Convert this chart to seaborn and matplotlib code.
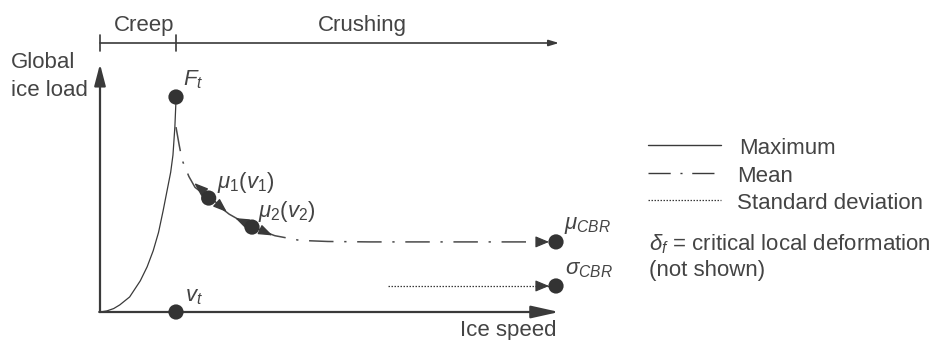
import numpy as np
import pandas as pd
import matplotlib
matplotlib.use("Agg")
import matplotlib.pyplot as plt
import seaborn as sns

# ---- schematic data (normalised: v_t = 1 on speed axis, F_t = 1 on load axis) ----
max_speed = [0.0, 0.09, 0.18, 0.26, 0.39, 0.53, 0.62, 0.70, 0.77, 0.83, 0.88, 0.93, 0.96, 0.985, 1.0]
max_load = [0.0, 0.005, 0.016, 0.033, 0.07, 0.145, 0.21, 0.285, 0.37, 0.47, 0.56, 0.65, 0.73, 0.86, 0.986]

mean_speed = [1.0, 1.04, 1.08, 1.17, 1.25, 1.43, 1.7, 2.0, 2.3, 2.63, 3.0, 3.55, 6.0]
mean_load = [0.86, 0.78, 0.707, 0.63, 0.58, 0.53, 0.455, 0.395, 0.355, 0.333, 0.328, 0.326, 0.326]

std_speed = [3.79, 6.0]
std_load = [0.121, 0.121]

point_names = ["F_t", "v_t", "mu1", "mu2", "mu_CBR", "sigma_CBR"]
point_speed = [1.0, 1.0, 1.43, 2.0, 6.0, 6.0]
point_load = [1.0, 0.0, 0.53, 0.395, 0.326, 0.121]
point_labels = [r"$F_t$", r"$v_t$", r"$\mu_{\mathit{1}}(v_{\mathit{1}})$",
                r"$\mu_{\mathit{2}}(v_{\mathit{2}})$", r"$\mu_{CBR}$", r"$\sigma_{CBR}$"]
label_offsets = [(7, 12), (9, 11), (8, 10), (6, 10), (8, 13), (9, 12)]

# local sensitivity of the mean load around mu1 and mu2 (tangent double arrows)
sens_start_speed = [1.24, 1.78]
sens_start_load = [0.60, 0.437]
sens_end_speed = [1.67, 2.27]
sens_end_load = [0.465, 0.356]

regime_names = ["Creep", "Crushing"]
regime_bounds = [0.0, 1.0, 6.0]

legend_labels = ["Maximum", "Mean", "Standard deviation"]
mean_dash = (0, (16, 7, 1.5, 7))
std_dots = (0, (1.2, 1.2))
legend_styles = ["-", mean_dash, std_dots]

# ---- styling ----
sns.set_theme(style="white")
plt.rcParams["font.family"] = ["Liberation Sans", "DejaVu Sans"]
plt.rcParams["mathtext.fontset"] = "custom"
plt.rcParams["mathtext.rm"] = "Liberation Sans"
plt.rcParams["mathtext.it"] = "Liberation Sans:italic"
plt.rcParams["mathtext.bf"] = "Liberation Sans:bold"

LINE = "#3a3a3a"
MEAN = "#4a4a4a"
TEXT = "#444444"
FS = 16

fig = plt.figure(figsize=(9.37, 3.4), dpi=100)
ax = fig.add_axes([0, 0, 1, 1])
# 76 px per unit speed, 215 px per unit load, origin at pixel (100, 312)
ax.set_xlim(-100 / 76, 837 / 76)
ax.set_ylim(-28 / 215, 312 / 215)
ax.set_axis_off()

def px(x, y):
    return ((x - 100) / 76, (312 - y) / 215)

# ---- axes with arrow heads ----
ytop = px(0, 64)[1]
xend = 6.04
ax.annotate("", xy=(0, ytop), xytext=(0, 0),
            arrowprops=dict(arrowstyle="-|>,head_length=0.65,head_width=0.17",
                            mutation_scale=20, lw=1.6, color=LINE,
                            shrinkA=0, shrinkB=0))
ax.annotate("", xy=(xend, 0), xytext=(-0.01, 0),
            arrowprops=dict(arrowstyle="-|>,head_length=0.85,head_width=0.19",
                            mutation_scale=20, lw=1.6, color=LINE,
                            shrinkA=0, shrinkB=0))

# ---- regime bracket on top ----
ybr = px(0, 43)[1]
tick_h = 8 / 215
ax.annotate("", xy=(xend, ybr), xytext=(regime_bounds[0], ybr),
            arrowprops=dict(arrowstyle="-|>,head_length=0.5,head_width=0.15",
                            mutation_scale=12, lw=1.2, color=LINE,
                            shrinkA=0, shrinkB=0))
for b in regime_bounds[:2]:
    ax.plot([b, b], [ybr - tick_h, ybr + tick_h], color=LINE, lw=1.2)
ty = px(0, 31)[1]
ax.text(0.58, ty, regime_names[0], ha="center", va="baseline", fontsize=FS, color=TEXT)
ax.text(3.45, ty, regime_names[1], ha="center", va="baseline", fontsize=FS, color=TEXT)

# ---- curves ----
sns.lineplot(x=max_speed, y=max_load, ax=ax, sort=False, estimator=None,
             color=LINE, lw=0.9)
sns.lineplot(x=mean_speed[:-1] + [5.93], y=mean_load, ax=ax, sort=False, estimator=None,
             color=MEAN, lw=1.1, linestyle=mean_dash)
sns.lineplot(x=[std_speed[0], 5.93], y=std_load, ax=ax, sort=False, estimator=None,
             color=LINE, lw=0.9, linestyle=std_dots)

# arrow heads into the mu_CBR and sigma_CBR points
for yv in (mean_load[-1], std_load[-1]):
    ax.annotate("", xy=(6.0, yv), xytext=(5.75, yv),
                arrowprops=dict(arrowstyle="-|>,head_length=0.6,head_width=0.25",
                                mutation_scale=14, lw=0.8, color=LINE,
                                shrinkA=0, shrinkB=5.0))

# double arrows at mu1, mu2
for xs, ys, xe, ye in zip(sens_start_speed, sens_start_load, sens_end_speed, sens_end_load):
    ax.annotate("", xy=(xe, ye), xytext=(xs, ys),
                arrowprops=dict(arrowstyle="<|-|>,head_length=0.6,head_width=0.22",
                                mutation_scale=14, lw=1.0, color=LINE,
                                shrinkA=0, shrinkB=0), zorder=4)

# ---- points ----
pts = pd.DataFrame({"name": point_names, "speed": point_speed, "load": point_load})
sns.scatterplot(data=pts, x="speed", y="load", ax=ax, s=120, color="#333333",
                edgecolor="none", zorder=5, legend=False)
for xv, yv, lab, off in zip(point_speed, point_load, point_labels, label_offsets):
    ax.annotate(lab, (xv, yv), xytext=off, textcoords="offset pixels",
                ha="left", va="baseline", fontsize=FS, color=TEXT)

# ---- axis titles ----
gx, gy = px(11, 68)
ax.text(gx, gy, "Global", ha="left", va="baseline", fontsize=FS, color=TEXT)
gx, gy = px(11, 96)
ax.text(gx, gy, "ice load", ha="left", va="baseline", fontsize=FS, color=TEXT)
sx, sy = px(557, 336)
ax.text(sx, sy, "Ice speed", ha="right", va="baseline", fontsize=FS, color=TEXT)

# ---- legend ----
lx0, lx1, tx = 648, 721, 739
for i, (lab, ls) in enumerate(zip(legend_labels, legend_styles)):
    ly = 145 + i * 27.5
    a = px(lx0, ly)
    b = px(lx1, ly)
    ax.plot([a[0], b[0]], [a[1], b[1]], color=LINE, lw=1.0 if i != 2 else 0.9, linestyle=ls)
    t = px(tx - (2 if i else 0), ly + 9)
    ax.text(t[0], t[1], lab, ha="left", va="baseline", fontsize=FS, color=TEXT)

nx, ny = px(649, 250)
ax.text(nx, ny, r"$\delta_f$ = critical local deformation", ha="left", va="baseline",
        fontsize=FS, color=TEXT)
nx, ny = px(649, 276)
ax.text(nx, ny, "(not shown)", ha="left", va="baseline", fontsize=FS, color=TEXT)

fig.savefig("out.png", dpi=100, facecolor="white")
